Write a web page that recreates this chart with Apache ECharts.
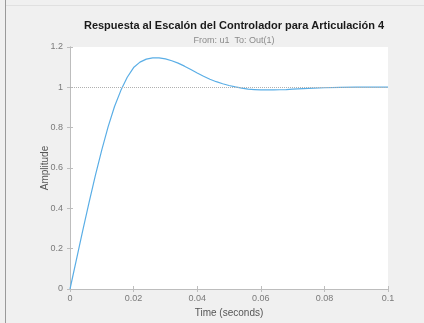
<!DOCTYPE html>
<html><head><meta charset="utf-8">
<script src="https://cdn.jsdelivr.net/npm/echarts@6/dist/echarts.min.js"></script>
<style>html,body{margin:0;padding:0;background:#f0f0f0}#c{width:424px;height:323px}</style>
</head><body><div id="c"></div>
<script>
var titleText = 'Respuesta al Escalón del Controlador para Articulación 4';
var subtitleText = 'From: u1  To: Out(1)';
var xLabel = 'Time (seconds)';
var yLabel = 'Amplitude';
var times = [0,0.002,0.004,0.006,0.008,0.010,0.012,0.014,0.016,0.018,0.020,0.022,0.024,0.026,0.028,0.030,0.032,0.034,0.036,0.038,0.040,0.042,0.044,0.046,0.048,0.050,0.052,0.054,0.056,0.058,0.060,0.062,0.064,0.066,0.068,0.070,0.075,0.080,0.085,0.090,0.095,0.100];
var amplitude = [0,0.145,0.29,0.43,0.565,0.69,0.805,0.905,0.985,1.05,1.098,1.125,1.14,1.146,1.146,1.141,1.132,1.12,1.105,1.088,1.071,1.055,1.04,1.028,1.018,1.009,1.002,0.996,0.991,0.989,0.987,0.987,0.987,0.988,0.989,0.991,0.995,0.998,1.0,1.001,1.001,1.001];
var refLevel = 1;

var data = times.map(function(t,i){return [t, amplitude[i]];});
var font = 'Liberation Sans, Arial, sans-serif';
var axisCol = '#bdbdbd';
var labCol = '#7a7a7a';
var chart = echarts.init(document.getElementById('c'));
chart.setOption({
  backgroundColor: '#f0f0f0',
  animation: false,
  title: [
    {text: titleText, left: 229, top: 15, textAlign: 'center',
     textStyle: {fontFamily: font, fontSize: 11, fontWeight: 'bold', color: '#1a1a1a'}},
    {text: subtitleText, left: 229, top: 31, textAlign: 'center',
     textStyle: {fontFamily: font, fontSize: 9, fontWeight: 'normal', color: '#8a8a8a'}}
  ],
  grid: {left: 70, right: 36, top: 47, bottom: 33, show: true, backgroundColor: '#ffffff', borderWidth: 0},
  xAxis: [
    {type: 'value', min: 0, max: 0.1, interval: 0.02, position: 'bottom',
     name: xLabel, nameLocation: 'middle', nameGap: 19, nameMoveOverlap: false,
     nameTextStyle: {fontFamily: font, fontSize: 10, color: '#555'},
     axisLine: {show: true, lineStyle: {color: axisCol}},
     axisTick: {inside: true, length: 3, lineStyle: {color: axisCol}},
     axisLabel: {fontFamily: font, fontSize: 9, color: labCol, margin: 5,
       formatter: function(v){return +v.toFixed(2) + '';}},
     splitLine: {show: false}},
    {type: 'value', min: 0, max: 0.1, interval: 0.02, position: 'top',
     axisLine: {show: true, lineStyle: {color: axisCol}},
     axisTick: {inside: true, length: 3, lineStyle: {color: axisCol}},
     axisLabel: {show: false}, splitLine: {show: false}}
  ],
  yAxis: [
    {type: 'value', min: 0, max: 1.2, interval: 0.2, position: 'left',
     name: yLabel, nameLocation: 'middle', nameGap: 20, nameMoveOverlap: false,
     nameTextStyle: {fontFamily: font, fontSize: 10, color: '#555'},
     axisLine: {show: true, lineStyle: {color: axisCol}},
     axisTick: {inside: true, length: 3, lineStyle: {color: axisCol}},
     axisLabel: {fontFamily: font, fontSize: 9, color: labCol, margin: 7,
       formatter: function(v){return +v.toFixed(1) + '';}},
     splitLine: {show: false}},
    {type: 'value', min: 0, max: 1.2, interval: 0.2, position: 'right',
     axisLine: {show: true, lineStyle: {color: axisCol}},
     axisTick: {inside: true, length: 3, lineStyle: {color: axisCol}},
     axisLabel: {show: false}, splitLine: {show: false}}
  ],
  series: [{
    type: 'line', data: data, showSymbol: false, smooth: false,
    xAxisIndex: 0, yAxisIndex: 0,
    lineStyle: {color: '#5aaee6', width: 1.2},
    markLine: {silent: true, symbol: 'none', label: {show: false},
      lineStyle: {color: '#b0b0b0', type: [1, 1], width: 1},
      data: [{yAxis: refLevel}]}
  }],
  graphic: [
    {type: 'line', shape: {x1: 5.5, y1: 0, x2: 5.5, y2: 323}, style: {stroke: '#9a9a9a', lineWidth: 1}},
    {type: 'line', shape: {x1: 6, y1: 5.5, x2: 424, y2: 5.5}, style: {stroke: '#e0e0e0', lineWidth: 1}}
  ]
});
</script></body></html>
